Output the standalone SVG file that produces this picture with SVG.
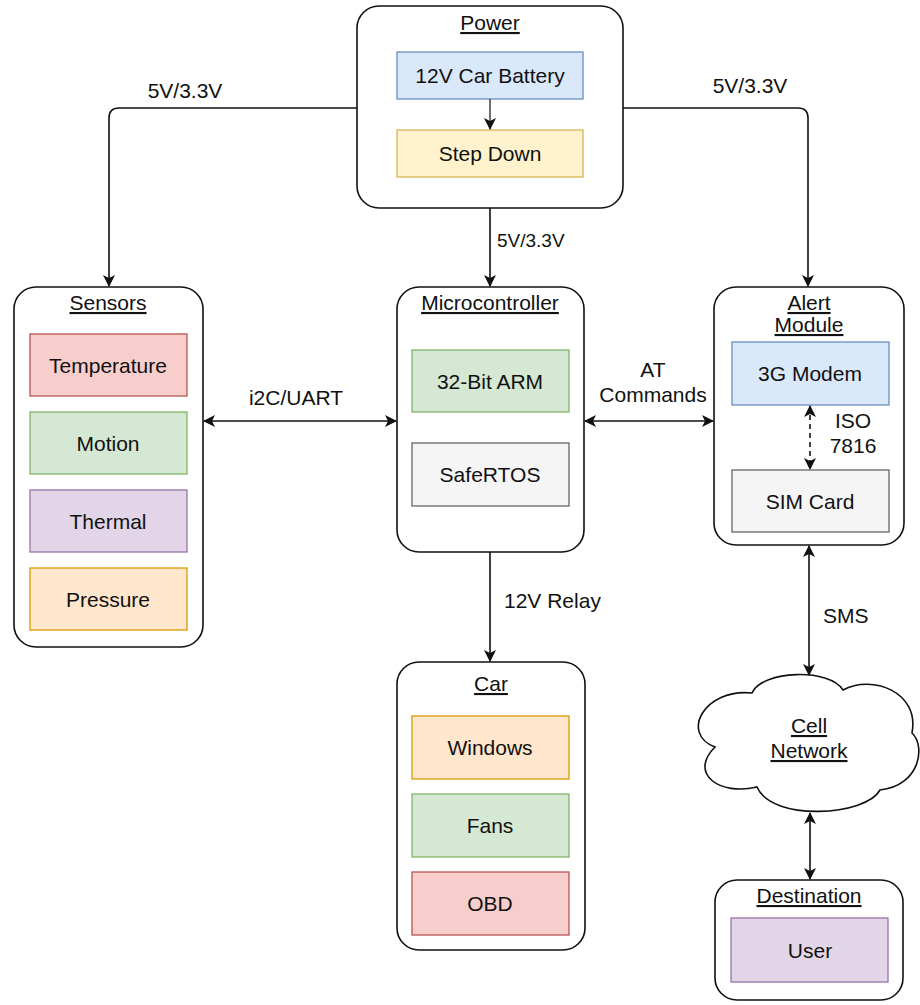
<svg xmlns="http://www.w3.org/2000/svg" width="920" height="1005" viewBox="0 0 920 1005">
<style>
text{font-family:"Liberation Sans",Arial,Helvetica,sans-serif;font-size:21px;fill:#111;text-anchor:middle}
.t{text-decoration:underline}
.s{text-anchor:start}
.cont{fill:#fff;stroke:#111;stroke-width:1.6}
.blue{fill:#dae8fc;stroke:#6c8ebf;stroke-width:1.3}
.yellow{fill:#fff2cc;stroke:#d6b656;stroke-width:1.3}
.red{fill:#f8cecc;stroke:#b85450;stroke-width:1.3}
.green{fill:#d5e8d4;stroke:#82b366;stroke-width:1.3}
.purple{fill:#e1d5e7;stroke:#9673a6;stroke-width:1.3}
.orange{fill:#ffe6cc;stroke:#d79b00;stroke-width:1.3}
.gray{fill:#f5f5f5;stroke:#666666;stroke-width:1.3}
.c{fill:none;stroke:#111;stroke-width:1.6}
.d{stroke-dasharray:5 4}
</style>
<defs>
<marker id="ah" viewBox="0 0 12 12" refX="11" refY="6" markerWidth="12" markerHeight="12" markerUnits="userSpaceOnUse" orient="auto-start-reverse">
<path d="M0,0 L12,6 L0,12 L3,6 Z" fill="#111"/>
</marker>
</defs>

<g id="power">
<rect class="cont" x="357" y="6" width="266" height="202" rx="22"/>
<text class="t" x="490" y="30">Power</text>
<rect class="blue" x="397" y="52" width="186" height="47"/>
<text x="490" y="83">12V Car Battery</text>
<rect class="yellow" x="397" y="130" width="186" height="47"/>
<text x="490" y="161">Step Down</text>
</g>

<g id="sensors">
<rect class="cont" x="14" y="287" width="189" height="360" rx="22"/>
<text class="t" x="108" y="310">Sensors</text>
<rect class="red" x="30" y="334" width="157" height="62"/>
<text x="108" y="373">Temperature</text>
<rect class="green" x="30" y="412" width="157" height="62"/>
<text x="108" y="451">Motion</text>
<rect class="purple" x="30" y="490" width="157" height="62"/>
<text x="108" y="529">Thermal</text>
<rect class="orange" x="30" y="568" width="157" height="62"/>
<text x="108" y="607">Pressure</text>
</g>

<g id="microcontroller">
<rect class="cont" x="397" y="287" width="187" height="265" rx="22"/>
<text class="t" x="490" y="310">Microcontroller</text>
<rect class="green" x="412" y="350" width="157" height="62"/>
<text x="490" y="389">32-Bit ARM</text>
<rect class="gray" x="412" y="443" width="157" height="63"/>
<text x="490" y="482">SafeRTOS</text>
</g>

<g id="alert">
<rect class="cont" x="714" y="287" width="190" height="258" rx="22"/>
<text class="t" x="809" y="310">Alert</text>
<text class="t" x="809" y="332">Module</text>
<rect class="blue" x="732" y="342" width="157" height="63"/>
<text x="810" y="381">3G Modem</text>
<rect class="gray" x="732" y="470" width="157" height="62"/>
<text x="810" y="509">SIM Card</text>
</g>

<g id="car">
<rect class="cont" x="397" y="662" width="188" height="288" rx="22"/>
<text class="t" x="491" y="691">Car</text>
<rect class="orange" x="412" y="716" width="157" height="63"/>
<text x="490" y="755">Windows</text>
<rect class="green" x="412" y="794" width="157" height="63"/>
<text x="490" y="833">Fans</text>
<rect class="red" x="412" y="872" width="157" height="63"/>
<text x="490" y="911">OBD</text>
</g>

<g id="cell-network">
<path class="cont" d="M752 693 C762 670 830 668 843 690 C872 674 920 692 912 733 C926 746 920 786 880 790 C866 816 772 822 757 787 C720 796 688 774 715 747 C680 734 704 688 752 693 Z"/>
<text class="t" x="809" y="733">Cell</text>
<text class="t" x="809" y="758">Network</text>
</g>

<g id="destination">
<rect class="cont" x="715" y="880" width="188" height="120" rx="22"/>
<text class="t" x="809" y="903">Destination</text>
<rect class="purple" x="731" y="918" width="157" height="64"/>
<text x="810" y="958">User</text>
</g>

<g id="connectors">
<path class="c" d="M357 108 L119 108 Q109 108 109 118 L109 286" marker-end="url(#ah)"/>
<path class="c" d="M623 108 L798 108 Q808 108 808 118 L808 286" marker-end="url(#ah)"/>
<path class="c" d="M490 208 L490 286" marker-end="url(#ah)"/>
<path class="c" d="M490 99 L490 129" style="stroke-width:1.2" marker-end="url(#ah)"/>
<path class="c" d="M204 421 L396 421" marker-start="url(#ah)" marker-end="url(#ah)"/>
<path class="c" d="M585 421 L713 421" marker-start="url(#ah)" marker-end="url(#ah)"/>
<path class="c d" d="M810 406 L810 469" marker-start="url(#ah)" marker-end="url(#ah)"/>
<path class="c" d="M490 552 L490 661" marker-end="url(#ah)"/>
<path class="c" d="M809 546 L809 675" marker-start="url(#ah)" marker-end="url(#ah)"/>
<path class="c" d="M810 813 L810 879" marker-start="url(#ah)" marker-end="url(#ah)"/>
<text x="185" y="98">5V/3.3V</text>
<text x="750" y="93">5V/3.3V</text>
<text class="s" x="497" y="247" style="font-size:19px">5V/3.3V</text>
<text x="296" y="405">i2C/UART</text>
<text x="653" y="377">AT</text>
<text x="653" y="402">Commands</text>
<text x="853" y="428">ISO</text>
<text x="853" y="453">7816</text>
<text class="s" x="504" y="608">12V Relay</text>
<text class="s" x="823" y="623">SMS</text>
</g>
</svg>
